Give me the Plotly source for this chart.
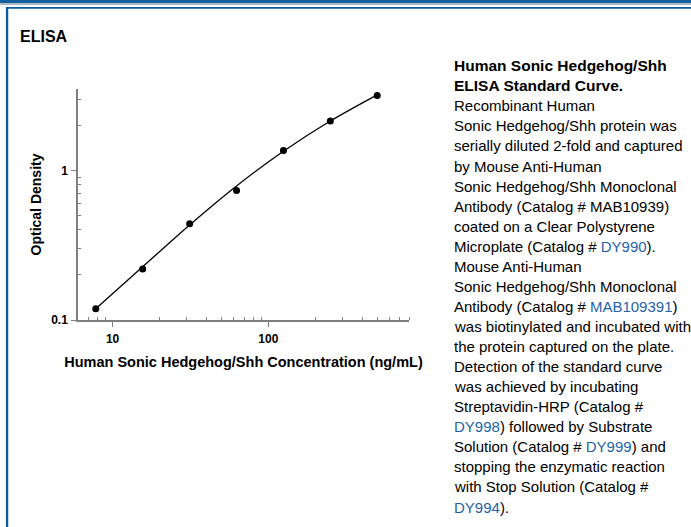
import plotly.graph_objects as go

# ---- data ----
concentration = [7.8, 15.6, 31.25, 62.5, 125, 250, 500]
optical_density = [0.119, 0.219, 0.44, 0.735, 1.36, 2.14, 3.17]

# fitted standard curve at the standard concentrations
curve_conc = [7.8, 15.6, 31.25, 62.5, 125, 250, 500]
curve_od = [0.119, 0.227, 0.432, 0.787, 1.343, 2.138, 3.2]

x_major = [10, 100]
x_major_text = ["10", "100"]
y_major = [0.1, 1]
y_major_text = ["0.1", "1"]
x_minor = [7, 8, 9, 20, 30, 40, 50, 60, 70, 80, 90, 200, 300, 400, 500, 600, 700, 800]
y_minor = [0.2, 0.3, 0.4, 0.5, 0.6, 0.7, 0.8, 0.9, 2, 3]

LINK = "#1f63a8"
caption_lines = [
    ("<b>Human Sonic Hedgehog/Shh</b>", True),
    ("<b>ELISA Standard Curve.</b>", True),
    ("Recombinant Human", False),
    ("Sonic Hedgehog/Shh protein was", False),
    ("serially diluted 2-fold and captured", False),
    ("by Mouse Anti-Human", False),
    ("Sonic Hedgehog/Shh Monoclonal", False),
    ("Antibody (Catalog # MAB10939)", False),
    ("coated on a Clear Polystyrene", False),
    ("Microplate (Catalog # <span style='color:%s'>DY990</span>)." % LINK, False),
    ("Mouse Anti-Human", False),
    ("Sonic Hedgehog/Shh Monoclonal", False),
    ("Antibody (Catalog # <span style='color:%s'>MAB109391</span>)" % LINK, False),
    ("was biotinylated and incubated with", False),
    ("the protein captured on the plate.", False),
    ("Detection of the standard curve", False),
    ("was achieved by incubating", False),
    ("Streptavidin-HRP (Catalog #", False),
    ("<span style='color:%s'>DY998</span>) followed by Substrate" % LINK, False),
    ("Solution (Catalog # <span style='color:%s'>DY999</span>) and" % LINK, False),
    ("stopping the enzymatic reaction", False),
    ("with Stop Solution (Catalog #", False),
    ("<span style='color:%s'>DY994</span>)." % LINK, False),
]

# ---- layout geometry (pixels) ----
W, H = 691, 527
L, R, T, B = 78, 408.7, 89, 320
PW, PH = R - L, B - T


def px(x):
    return (x - L) / PW


def py(y):
    return (B - y) / PH


FONT = "Arial, 'Liberation Sans', sans-serif"
AXIS_GREY = "#7f7f7f"

fig = go.Figure()
fig.add_trace(go.Scatter(
    x=curve_conc, y=curve_od,
    mode="lines",
    line=dict(color="black", width=1.3, shape="spline", smoothing=1.0),
    showlegend=False, hoverinfo="skip",
))
fig.add_trace(go.Scatter(
    x=concentration, y=optical_density,
    mode="markers",
    marker=dict(color="black", size=7),
    showlegend=False, hoverinfo="skip",
))

axis_common = dict(
    type="log",
    showgrid=False, zeroline=False,
    showline=True, linecolor=AXIS_GREY, linewidth=1.5,
    ticks="outside", ticklen=5, tickwidth=1, tickcolor=AXIS_GREY,
    tickfont=dict(family=FONT, size=12, color="black", weight="bold"),
    tickmode="array",
    automargin=False,
)

fig.update_xaxes(
    **axis_common,
    range=[0.778, 2.903],
    tickvals=x_major, ticktext=x_major_text,
    ticklabelstandoff=2,
    minor=dict(tickvals=x_minor, ticks="inside", ticklen=3, tickcolor=AXIS_GREY, tickwidth=1),
    title=dict(text="Human Sonic Hedgehog/Shh Concentration (ng/mL)",
               font=dict(family=FONT, size=14.5, color="black", weight="bold"), standoff=12),
)
fig.update_yaxes(
    **axis_common,
    range=[-1, 0.544],
    tickvals=y_major, ticktext=y_major_text,
    ticklabelstandoff=1,
    minor=dict(tickvals=y_minor, ticks="inside", ticklen=3, tickcolor=AXIS_GREY, tickwidth=1),
    title=dict(text="Optical Density",
               font=dict(family=FONT, size=14, color="black", weight="bold"), standoff=6),
)

shapes = [
    dict(type="rect", xref="paper", yref="paper", x0=px(0), x1=px(W), y0=py(0), y1=py(3.3),
         fillcolor="#15609f", line_width=0, layer="above"),
    dict(type="rect", xref="paper", yref="paper", x0=px(0), x1=px(W), y0=py(3.3), y1=py(5),
         fillcolor="#a9b4c0", line_width=0, layer="above"),
    dict(type="rect", xref="paper", yref="paper", x0=px(6), x1=px(W), y0=py(7), y1=py(8.7),
         fillcolor="#0c5a9a", line_width=0, layer="above"),
    dict(type="rect", xref="paper", yref="paper", x0=px(6), x1=px(8.3), y0=py(7), y1=py(H),
         fillcolor="#0c5a9a", line_width=0, layer="above"),
]

annotations = [
    dict(text="<b>ELISA</b>", xref="paper", yref="paper", x=px(18), y=py(36),
         xanchor="left", yanchor="middle", showarrow=False,
         font=dict(family=FONT, size=16, color="black")),
]
for i, (line, bold) in enumerate(caption_lines):
    annotations.append(dict(
        text=line, xref="paper", yref="paper", x=px(452), y=py(65.7 + 20.06 * i),
        xanchor="left", yanchor="middle", showarrow=False, align="left",
        font=dict(family=FONT, size=15.5 if bold else 15, color="black"),
    ))

fig.update_layout(
    width=W, height=H,
    margin=dict(l=L, r=W - R, t=T, b=H - B, pad=0, autoexpand=False),
    paper_bgcolor="white", plot_bgcolor="white",
    shapes=shapes, annotations=annotations,
    font=dict(family=FONT),
)

fig.write_html(
    "out.html",
    config={"displayModeBar": False},
    post_script="document.body.style.margin='0px';document.body.style.overflow='hidden';",
)
